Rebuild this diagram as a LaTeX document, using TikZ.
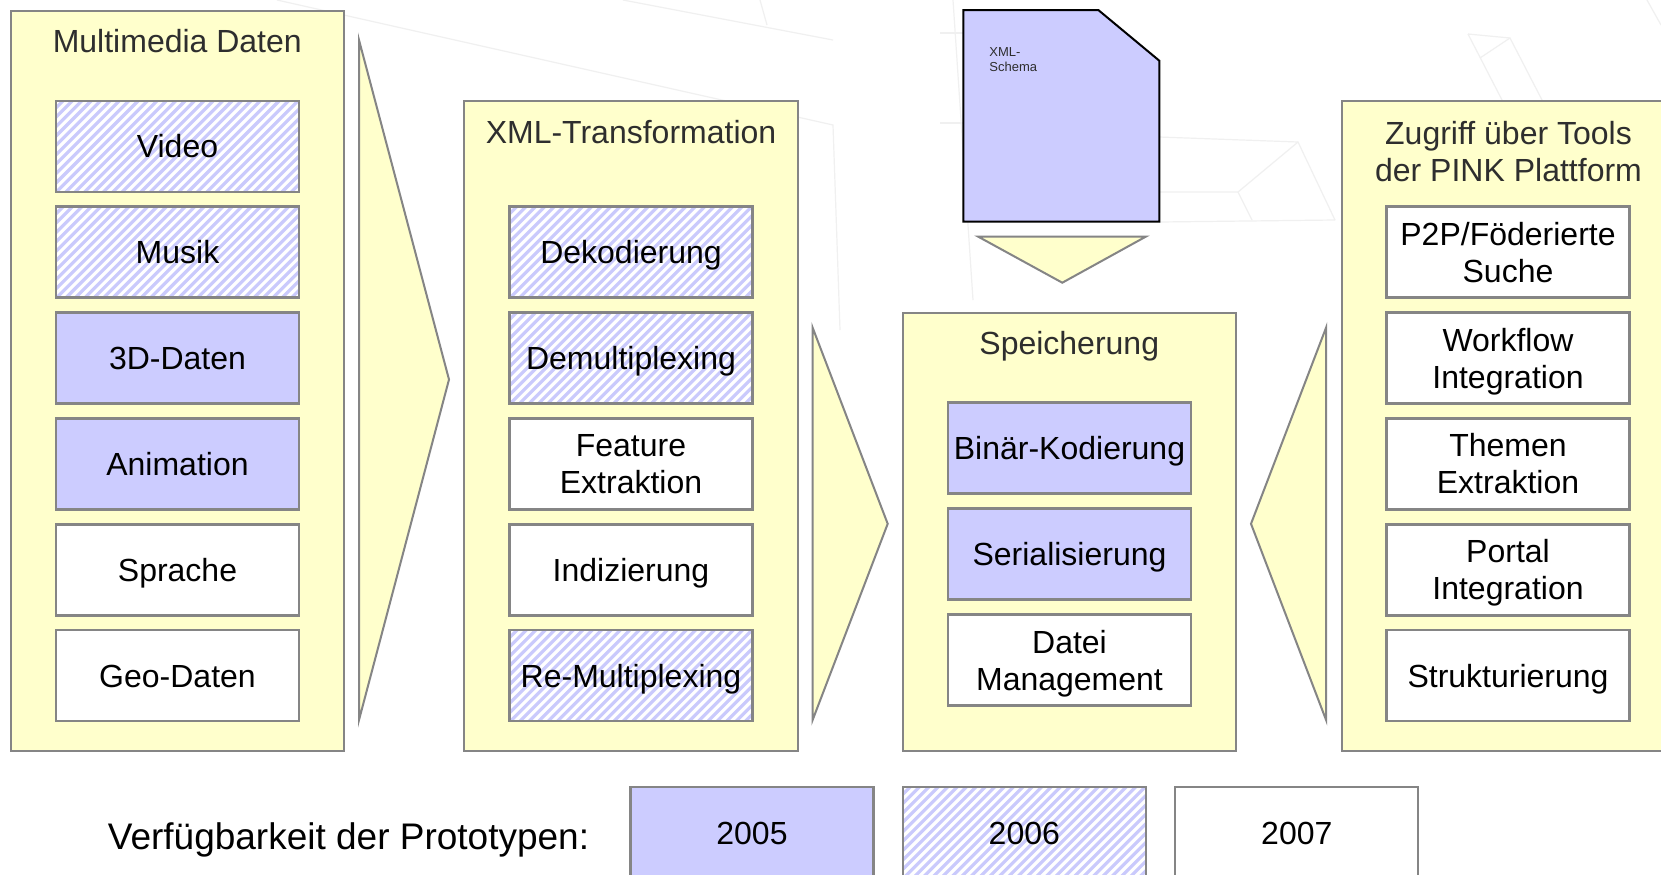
\documentclass[tikz,border=0pt]{standalone}
\usepackage{fontspec}
\setmainfont{Liberation Sans}
\definecolor{panelfill}{HTML}{FFFFCC}
\definecolor{bluefill}{HTML}{CCCCFF}
\definecolor{bordergray}{HTML}{858585}
\definecolor{stripecol}{HTML}{CACAFC}
\definecolor{titlegray}{HTML}{2E2E2E}
\definecolor{bgline}{HTML}{F0F0F0}
\begin{document}
\begin{tikzpicture}[x=0.5pt,y=-0.5pt,
  panel/.style={draw=bordergray, fill=panelfill, line width=1pt, inner sep=0pt, rectangle},
  ptitle/.style={text=titlegray, font=\fontsize{16}{18.5}\selectfont, align=center, inner sep=0pt, text height=11.5pt, text depth=0pt},
  ptitletwo/.style={ptitle, text height=30pt},
  box/.style={draw=bordergray, line width=1.1pt, minimum width=121.5pt, minimum height=45.5pt, inner sep=0pt,
    font=\fontsize{16}{18.5}\selectfont, align=center, text height=11.5pt, text depth=0pt},
  boxtwo/.style={box, text height=30pt},
  wbox/.style={fill=white},
  bbox/.style={fill=bluefill},
  hbox/.style={fill=white, path picture={
      \foreach \k in {-22,...,22}{
        \draw[stripecol, line width=1.6pt]
          ([xshift=\k*4.7pt]path picture bounding box.center) ++(-60pt,-60pt) -- ++(120pt,120pt);
      }}},
  arrowshape/.style={draw=bordergray, fill=panelfill, line width=1pt, line join=miter},
  docshape/.style={draw=black, fill=bluefill, line width=1pt, line join=miter},
  doctext/.style={text=titlegray, font=\fontsize{6.5}{7.7}\selectfont, align=left, inner sep=0pt},
  legendtext/.style={font=\fontsize{18.5}{22}\selectfont, inner sep=0pt, text height=13.3pt, text depth=0pt},
  bg/.style={draw=bgline, line width=0.6pt}
]
\useasboundingbox (0,0) rectangle (1661,874);
\clip (0,0) rectangle (1661,874);
\fill[white] (0,0) rectangle (1661,874);

% faint background lines
\draw[bg] (277,0) -- (833,125) -- (840,330);
\draw[bg] (623,0) -- (833,40);
\draw[bg] (760,0) -- (767,25);
\draw[bg] (953,0) -- (973,300);
\draw[bg] (940,33) -- (963,33);
\draw[bg] (940,123) -- (963,123);
\draw[bg] (1159,137) -- (1298,142) -- (1335,220);
\draw[bg] (1159,192) -- (1238,192) -- (1298,142);
\draw[bg] (1238,192) -- (1252,220);
\draw[bg] (1159,222) -- (1335,220);
\draw[bg] (1468,34) -- (1510,38) -- (1542,100);
\draw[bg] (1468,34) -- (1502,100);
\draw[bg] (1480,58) -- (1510,38);
\draw[bg] (1647,0) -- (1661,25);

% panels
\node[panel, minimum width=166.7pt, minimum height=370.2pt] (p1) at (177.3,380.8) {};
\node[panel, minimum width=167pt, minimum height=325.2pt] (p2) at (631,425.8) {};
\node[panel, minimum width=166.75pt, minimum height=219.25pt] (p3) at (1069.25,531.75) {};
\node[panel, minimum width=167pt, minimum height=325.2pt] (p4) at (1508.7,425.8) {};

\node[ptitle] (t1) at (177.3,41) {Multimedia Daten};
\node[ptitle] (t2) at (631,131.5) {XML-Transformation};
\node[ptitle] (t3) at (1069.25,343) {Speicherung};
\node[ptitletwo] (t4) at (1508.5,151) {Zugriff über Tools\\der PINK Plattform};

% arrows
\draw[arrowshape] (359,40) -- (449,379.5) -- (359,720) -- cycle;
\draw[arrowshape] (812.5,327.3) -- (887.7,523.8) -- (812.5,720.3) -- cycle;
\draw[arrowshape] (1326.2,327.3) -- (1251,523.8) -- (1326.2,720.3) -- cycle;
\draw[arrowshape] (978.3,236.7) -- (1145.7,236.7) -- (1062.3,282.7) -- cycle;

% XML schema document
\draw[docshape] (963.3,10) -- (1098.3,10) -- (1159.3,60.7) -- (1159.3,221.7) -- (963.3,221.7) -- cycle;
\node[doctext, anchor=north west] (schema) at (989,46.7) {XML-\\Schema};

% column 1
\node[box, hbox] (video) at (177.5,146.1) {Video};
\node[box, hbox] (musik) at (177.5,252.05) {Musik};
\node[box, bbox] (d3) at (177.5,358) {3D-Daten};
\node[box, bbox] (anim) at (177.5,463.95) {Animation};
\node[box, wbox] (sprache) at (177.5,569.9) {Sprache};
\node[box, wbox] (geo) at (177.5,675.85) {Geo-Daten};

% column 2
\node[box, hbox] (dekod) at (631,252.05) {Dekodierung};
\node[box, hbox] (demux) at (631,358) {Demultiplexing};
\node[boxtwo, wbox] (feat) at (631,463.95) {Feature\\Extraktion};
\node[box, wbox] (index) at (631,569.9) {Indizierung};
\node[box, hbox] (remux) at (631,675.85) {Re-Multiplexing};

% column 3
\node[box, bbox] (binaer) at (1069.5,448) {Binär-Kodierung};
\node[box, bbox] (serial) at (1069.5,554) {Serialisierung};
\node[boxtwo, wbox] (datei) at (1069.5,660) {Datei\\Management};

% column 4
\node[boxtwo, wbox] (p2p) at (1508,252.05) {P2P/Föderierte\\Suche};
\node[boxtwo, wbox] (workflow) at (1508,358) {Workflow\\Integration};
\node[boxtwo, wbox] (themen) at (1508,463.95) {Themen\\Extraktion};
\node[boxtwo, wbox] (portal) at (1508,569.9) {Portal\\Integration};
\node[box, wbox] (strukt) at (1508,675.85) {Strukturierung};

% legend
\node[legendtext] (legend) at (348.5,836) {Verfügbarkeit der Prototypen:};
\node[box, bbox] (y2005) at (752,832.5) {2005};
\node[box, hbox] (y2006) at (1024.3,832.5) {2006};
\node[box, wbox] (y2007) at (1296.8,832.5) {2007};
\end{tikzpicture}
\end{document}
